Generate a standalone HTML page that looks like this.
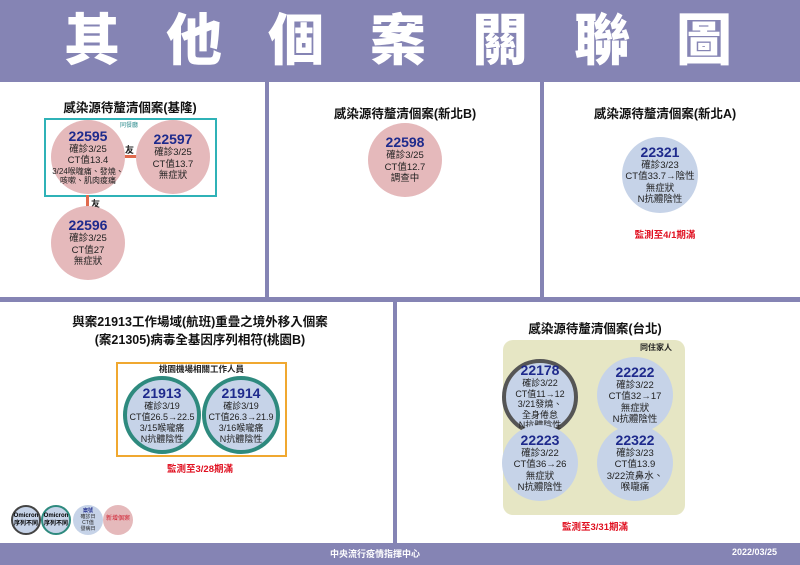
<!DOCTYPE html>
<html><head><meta charset="utf-8"><style>
*{margin:0;padding:0;box-sizing:border-box}
body{width:800px;height:565px;background:#fff;position:relative;overflow:hidden;font-family:"Liberation Sans","Noto Sans CJK TC",sans-serif;color:#222}
.a{position:absolute}
.bar{position:absolute;background:#8584b4}
.c{position:absolute;border-radius:50%;display:flex;flex-direction:column;align-items:center;justify-content:center;text-align:center;font-size:9.5px;line-height:11.5px;color:#222;white-space:nowrap}
.c b{color:#1e2a8c;font-size:14px;line-height:15px;font-weight:bold}
.pink{background:#e5b9bb}
.blue{background:#c6d3e8}
.h{position:absolute;font-weight:bold;font-size:12.5px;text-align:center;color:#111}
.red{position:absolute;color:#e01020;font-weight:bold;font-size:9.5px;text-align:center}
</style></head><body>
<div class="bar" style="left:0;top:0;width:800px;height:82px"></div>
<div class="a" style="left:64px;top:12px;width:720px;font-size:56px;line-height:58px;font-weight:900;color:#fff;letter-spacing:46px;white-space:nowrap">其他個案關聯圖</div>
<div class="bar" style="left:265px;top:82px;width:4px;height:216px"></div>
<div class="bar" style="left:540px;top:82px;width:4px;height:216px"></div>
<div class="bar" style="left:0;top:297px;width:800px;height:5px"></div>
<div class="bar" style="left:393px;top:302px;width:4px;height:242px"></div>
<div class="bar" style="left:0;top:543px;width:800px;height:22px"></div>
<div class="a" style="left:330px;top:547px;font-size:9px;color:#fff;font-weight:bold">中央流行疫情指揮中心</div>
<div class="a" style="left:732px;top:547px;font-size:9px;color:#fff;font-weight:bold">2022/03/25</div>

<div class="h" style="left:30px;top:97px;width:200px">感染源待釐清個案(基隆)</div>
<div class="a" style="left:44px;top:118px;width:173px;height:79px;border:2px solid #2fb2b7"></div>
<div class="a" style="left:120px;top:120px;font-size:6px;color:#2a8a8c">同餐廳</div>
<div class="a" style="left:120px;top:155px;width:18px;height:3px;background:#e06a4c"></div>
<div class="a" style="left:125px;top:143px;font-size:9px;font-weight:bold">友</div>
<div class="a" style="left:86px;top:195px;width:3px;height:12px;background:#e06a4c"></div>
<div class="a" style="left:91px;top:197px;font-size:9px;font-weight:bold">友</div>
<div class="c pink" style="left:51px;top:120px;width:74px;height:74px"><b>22595</b>確診3/25<br>CT值13.4<span style="font-size:8px;line-height:9.5px">3/24喉嚨痛、發燒、<br>咳嗽、肌肉痠痛</span></div>
<div class="c pink" style="left:136px;top:120px;width:74px;height:74px"><b>22597</b>確診3/25<br>CT值13.7<br>無症狀</div>
<div class="c pink" style="left:51px;top:206px;width:74px;height:74px"><b>22596</b>確診3/25<br>CT值27<br>無症狀</div>

<div class="h" style="left:290px;top:103px;width:230px">感染源待釐清個案(新北B)</div>
<div class="c pink" style="left:368px;top:123px;width:74px;height:74px"><b>22598</b>確診3/25<br>CT值12.7<br>調查中</div>

<div class="h" style="left:560px;top:103px;width:210px">感染源待釐清個案(新北A)</div>
<div class="c blue" style="left:622px;top:137px;width:76px;height:76px"><b>22321</b>確診3/23<br>CT值33.7→陰性<br>無症狀<br>N抗體陰性</div>
<div class="red" style="left:610px;top:227px;width:110px">監測至4/1期滿</div>

<div class="h" style="left:20px;top:313px;width:360px;line-height:18px">與案21913工作場域(航班)重疊之境外移入個案<br>(案21305)病毒全基因序列相符(桃園B)</div>
<div class="a" style="left:116px;top:362px;width:171px;height:95px;border:2px solid #f0a830"></div>
<div class="a" style="left:116px;top:363px;width:171px;text-align:center;font-size:8.5px;font-weight:bold">桃園機場相關工作人員</div>
<div class="c blue" style="left:123px;top:376px;width:78px;height:78px;border:4px solid #2e8a7e;font-size:9px;line-height:11px"><b>21913</b>確診3/19<br>CT值26.5→22.5<br>3/15喉嚨痛<br>N抗體陰性</div>
<div class="c blue" style="left:202px;top:376px;width:78px;height:78px;border:4px solid #2e8a7e;font-size:9px;line-height:11px"><b>21914</b>確診3/19<br>CT值26.3→21.9<br>3/16喉嚨痛<br>N抗體陰性</div>
<div class="red" style="left:145px;top:461px;width:110px">監測至3/28期滿</div>

<div class="c blue" style="left:11px;top:505px;width:30px;height:30px;border:2px solid #444;font-size:6px;line-height:8px;font-weight:bold;color:#000">Omicron<br>序列不同</div>
<div class="c blue" style="left:41px;top:505px;width:30px;height:30px;border:2px solid #2e8a7e;font-size:6px;line-height:8px;font-weight:bold;color:#000">Omicron<br>序列不同</div>
<div class="c blue" style="left:73px;top:505px;width:30px;height:30px;font-size:5px;line-height:6px"><span style="color:#1e2a8c;font-weight:bold">案號</span>確診日<br>CT值<br>發病日</div>
<div class="c pink" style="left:103px;top:505px;width:30px;height:30px;font-size:6px;color:#d02030">新增個案</div>

<div class="h" style="left:470px;top:318px;width:250px">感染源待釐清個案(台北)</div>
<div class="a" style="left:503px;top:340px;width:182px;height:175px;background:#e6e6c4;border-radius:10px"></div>
<div class="a" style="left:640px;top:342px;font-size:8px;font-weight:bold">同住家人</div>
<div class="c blue" style="left:502px;top:359px;width:76px;height:76px;border:4px solid #555;font-size:9px;line-height:10.5px"><b>22178</b>確診3/22<br>CT值11→12<br>3/21發燒、<br>全身倦怠<br>N抗體陰性</div>
<div class="c blue" style="left:597px;top:357px;width:76px;height:76px"><b>22222</b>確診3/22<br>CT值32→17<br>無症狀<br>N抗體陰性</div>
<div class="c blue" style="left:502px;top:425px;width:76px;height:76px"><b>22223</b>確診3/22<br>CT值36→26<br>無症狀<br>N抗體陰性</div>
<div class="c blue" style="left:597px;top:425px;width:76px;height:76px"><b>22322</b>確診3/23<br>CT值13.9<br>3/22流鼻水、<br>喉嚨痛</div>
<div class="red" style="left:540px;top:519px;width:110px">監測至3/31期滿</div>
</body></html>
